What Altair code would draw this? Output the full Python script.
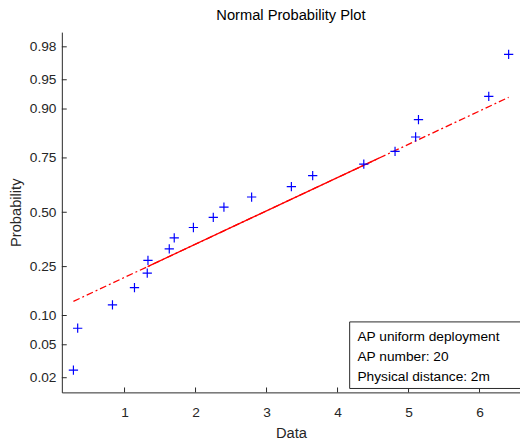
import altair as alt
import numpy as np
import pandas as pd
from statistics import NormalDist

# ---- data ----
data_x = [0.28, 0.34, 0.83, 1.14, 1.32, 1.33, 1.63, 1.70, 1.97, 2.25,
          2.40, 2.79, 3.35, 3.65, 4.37, 4.81, 5.10, 5.14, 6.13, 6.41]
data_p = [0.025, 0.075, 0.125, 0.175, 0.225, 0.275, 0.325, 0.375, 0.425, 0.475,
          0.525, 0.575, 0.625, 0.675, 0.725, 0.775, 0.825, 0.875, 0.925, 0.975]
prob_ticks = [0.02, 0.05, 0.10, 0.25, 0.50, 0.75, 0.90, 0.95, 0.98]
x_ticks = [1, 2, 3, 4, 5, 6]
legend_lines = ["AP uniform deployment", "AP number: 20", "Physical distance: 2m"]
title_text = "Normal Probability Plot"

nd = NormalDist()
FONT = "Liberation Sans"
AX = "#262626"
W, H = 468, 368
XDOM = [0.117, 6.57]
ZLIM = 2.236

pts = pd.DataFrame({"x": data_x, "z": [nd.inv_cdf(p) for p in data_p]})

# reference line through the quartiles (as normplot does)
q1, q3 = np.percentile(data_x, [25, 75], method="hazen")
z1, z3 = nd.inv_cdf(0.25), nd.inv_cdf(0.75)
slope = (z3 - z1) / (q3 - q1)
xmin, xmax = min(data_x), max(data_x)
solid = pd.DataFrame({"x": [q1, q3], "z": [z1, z3]})
dashed = pd.DataFrame({"x": [xmin, xmax],
                       "z": [z1 + (xmin - q1) * slope, z3 + (xmax - q3) * slope]})

ytick_df = pd.DataFrame({"z": [nd.inv_cdf(p) for p in prob_ticks]})
xtick_df = pd.DataFrame({"x": x_ticks})
one = pd.DataFrame({"a": [0]})

xs = alt.Scale(domain=XDOM, nice=False, zero=False)
ys = alt.Scale(domain=[-ZLIM, ZLIM], nice=False, zero=False)

xenc = alt.X("x:Q", scale=xs, title="Data",
             axis=alt.Axis(values=x_ticks, ticks=False, grid=False, labelPadding=14,
                           titlePadding=6, format="d"))
yenc = alt.Y("z:Q", scale=ys, title="Probability",
             axis=alt.Axis(values=ytick_df["z"].tolist(), ticks=False, grid=False,
                           labelPadding=6, titlePadding=6,
                           labelExpr="format(cumulativeNormal(datum.value), '.2f')"))

dash_line = alt.Chart(dashed).mark_line(color="#ff0000", strokeWidth=1.3,
                                        strokeDash=[7, 3, 2, 3]).encode(x=xenc, y=yenc)
solid_line = alt.Chart(solid).mark_line(color="#ff0000", strokeWidth=1.3).encode(
    x=alt.X("x:Q", scale=xs), y=alt.Y("z:Q", scale=ys))
points = alt.Chart(pts).mark_point(shape="M-1,0L1,0M0,-1L0,1", size=90, filled=False,
                                   color="#0000ff", strokeWidth=1.2, opacity=1).encode(
    x=alt.X("x:Q", scale=xs), y=alt.Y("z:Q", scale=ys))
yticks = alt.Chart(ytick_df).mark_rule(color=AX, strokeWidth=1).encode(
    y=alt.Y("z:Q", scale=ys), x=alt.value(0), x2=alt.value(5))
xticks = alt.Chart(xtick_df).mark_rule(color=AX, strokeWidth=1).encode(
    x=alt.X("x:Q", scale=xs), y=alt.value(H - 5), y2=alt.value(H))
box = alt.Chart(one).mark_rect(fill="white", stroke=AX, strokeWidth=1).encode(
    x=alt.value(294), x2=alt.value(700), y=alt.value(296), y2=alt.value(364))
box_text = alt.Chart(one).mark_text(align="left", baseline="top", font=FONT, fontSize=14,
                                    lineHeight=20, color="#000000").encode(
    x=alt.value(302), y=alt.value(305), text=alt.value(legend_lines))

chart = alt.layer(dash_line, solid_line, points, yticks, xticks, box, box_text).properties(
    width=W, height=H,
    background="white",
    title=alt.Title(title_text, fontSize=15, font=FONT, fontWeight="normal",
                    color="#000000", anchor="middle", offset=9),
    autosize=alt.AutoSizeParams(type="none"),
    padding={"left": 55, "top": 20, "right": 0, "bottom": 45},
).configure_view(stroke=None).configure_axis(
    domainColor=AX, domainWidth=1, labelColor=AX, titleColor=AX,
    labelFont=FONT, titleFont=FONT, labelFontSize=14, titleFontSize=15,
    titleFontWeight="normal"
)

chart.save("out.html", embed_options={"renderer": "svg", "actions": False})
